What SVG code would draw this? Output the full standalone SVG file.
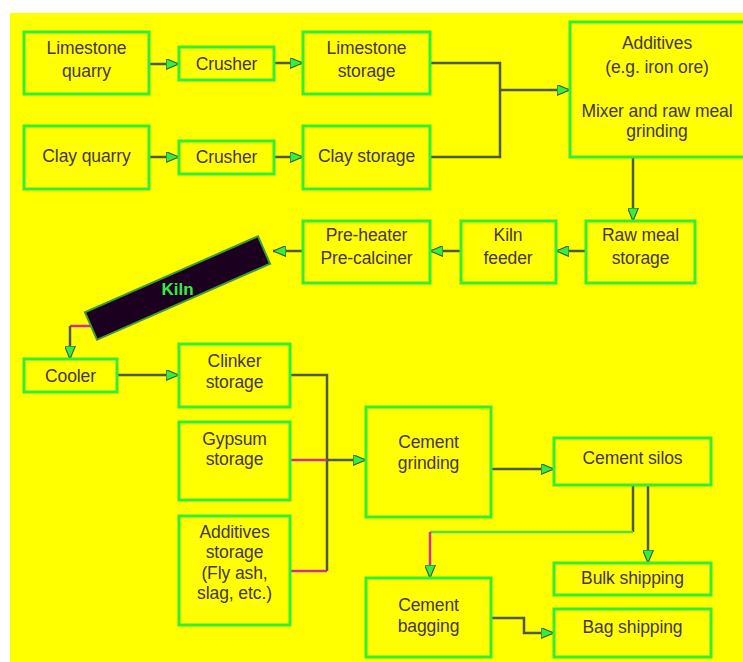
<svg xmlns="http://www.w3.org/2000/svg" width="743" height="662" viewBox="0 0 743 662">
<style>
.box{fill:#ffff00;stroke:#33ee33;stroke-width:3}
.t{font-family:"Liberation Sans",Arial,sans-serif;font-size:17.5px;fill:#46364a;text-anchor:middle;letter-spacing:-0.1px}
.c{fill:none;stroke:#4d5a33;stroke-width:2.5}
.m{stroke:#d0309a}
.g{stroke:#55dd44}
</style>
<defs>
<marker id="arr" viewBox="0 0 12 10" refX="12" refY="5" markerWidth="13" markerHeight="11" orient="auto" markerUnits="userSpaceOnUse">
<path d="M0,0 L12,5 L0,10 Z" fill="#33ee44" stroke="#3d5a2a" stroke-width="1"/>
</marker>
</defs>
<rect x="0" y="0" width="743" height="662" fill="#ffffff"/>
<rect x="10" y="13" width="733" height="649" fill="#ffff00"/>

<g id="connectors">
<path class="c" d="M149,64 H179" marker-end="url(#arr)"/>
<path class="c" d="M274,63 H303" marker-end="url(#arr)"/>
<path class="c" d="M149,157 H179" marker-end="url(#arr)"/>
<path class="c" d="M274,157 H303" marker-end="url(#arr)"/>
<path class="c" d="M430,63 H500 V157 H430"/>
<path class="c" d="M500,90 H570" marker-end="url(#arr)"/>
<path class="c" d="M633,157 V221" marker-end="url(#arr)"/>
<path class="c" d="M586,251 H556" marker-end="url(#arr)"/>
<path class="c" d="M461,251 H430" marker-end="url(#arr)"/>
<path class="c" d="M303,251 H273" marker-end="url(#arr)"/>
<path class="c m" d="M92,326 H70"/>
<path class="c" d="M70,326 V359" marker-end="url(#arr)"/>
<path class="c" d="M117,375 H179" marker-end="url(#arr)"/>
<path class="c" d="M290,375 H327 V571"/>
<path class="c m" d="M290,571 H327"/>
<path class="c m" d="M290,460 H327"/>
<path class="c" d="M327,460 H366" marker-end="url(#arr)"/>
<path class="c" d="M491,469 H554" marker-end="url(#arr)"/>
<path class="c" d="M648,485 V563" marker-end="url(#arr)"/>
<path class="c" d="M633,485 V532"/>
<path class="c g" d="M633,532 H430"/>
<path class="c m" d="M430,532 V578" marker-end="url(#arr)"/>
<path class="c" d="M491,618 H524 V633 H554" marker-end="url(#arr)"/>
</g>

<g id="limestone-quarry"><rect class="box" x="24" y="32" width="125" height="62"/><text class="t" x="86.5" y="54">Limestone</text><text class="t" x="86.5" y="77">quarry</text></g>
<g id="crusher-1"><rect class="box" x="179" y="47" width="95" height="33"/><text class="t" x="226.5" y="70">Crusher</text></g>
<g id="limestone-storage"><rect class="box" x="303" y="32" width="127" height="62"/><text class="t" x="366.5" y="54">Limestone</text><text class="t" x="366.5" y="77">storage</text></g>
<g id="additives-mixer"><rect class="box" x="570" y="22" width="182" height="135"/><text class="t" x="657" y="49">Additives</text><text class="t" x="657" y="73">(e.g. iron ore)</text><text class="t" x="657" y="117">Mixer and raw meal</text><text class="t" x="657" y="137">grinding</text></g>
<g id="clay-quarry"><rect class="box" x="24" y="126" width="125" height="63"/><text class="t" x="86.5" y="162">Clay quarry</text></g>
<g id="crusher-2"><rect class="box" x="179" y="141" width="95" height="33"/><text class="t" x="226.5" y="163">Crusher</text></g>
<g id="clay-storage"><rect class="box" x="303" y="126" width="127" height="63"/><text class="t" x="366.5" y="162">Clay storage</text></g>
<g id="raw-meal-storage"><rect class="box" x="586" y="221" width="109" height="62"/><text class="t" x="640.5" y="241">Raw meal</text><text class="t" x="640.5" y="264">storage</text></g>
<g id="kiln-feeder"><rect class="box" x="461" y="221" width="95" height="62"/><text class="t" x="508" y="241">Kiln</text><text class="t" x="508" y="264">feeder</text></g>
<g id="pre-heater"><rect class="box" x="303" y="221" width="127" height="62"/><text class="t" x="366.5" y="241">Pre-heater</text><text class="t" x="366.5" y="264">Pre-calciner</text></g>
<g id="kiln"><rect x="83" y="273" width="189" height="30" fill="#1c0020" stroke="#3f9a3f" stroke-width="2" transform="rotate(-23.7 177.5 288)"/><text x="177.5" y="295" font-family="Liberation Sans,Arial,sans-serif" font-size="17" font-weight="bold" fill="#33ee44" text-anchor="middle">Kiln</text></g>
<g id="cooler"><rect class="box" x="24" y="359" width="93" height="33"/><text class="t" x="70.5" y="382">Cooler</text></g>
<g id="clinker-storage"><rect class="box" x="179" y="344" width="111" height="63"/><text class="t" x="234.5" y="367">Clinker</text><text class="t" x="234.5" y="388">storage</text></g>
<g id="gypsum-storage"><rect class="box" x="179" y="422" width="111" height="78"/><text class="t" x="234.5" y="445">Gypsum</text><text class="t" x="234.5" y="465">storage</text></g>
<g id="additives-storage"><rect class="box" x="179" y="516" width="111" height="109"/><text class="t" x="234.5" y="538">Additives</text><text class="t" x="234.5" y="558">storage</text><text class="t" x="234.5" y="579">(Fly ash,</text><text class="t" x="234.5" y="599">slag, etc.)</text></g>
<g id="cement-grinding"><rect class="box" x="366" y="407" width="125" height="110"/><text class="t" x="428.5" y="448">Cement</text><text class="t" x="428.5" y="469">grinding</text></g>
<g id="cement-silos"><rect class="box" x="554" y="438" width="157" height="47"/><text class="t" x="632.5" y="464">Cement silos</text></g>
<g id="bulk-shipping"><rect class="box" x="554" y="563" width="157" height="32"/><text class="t" x="632.5" y="584">Bulk shipping</text></g>
<g id="cement-bagging"><rect class="box" x="366" y="578" width="125" height="79"/><text class="t" x="428.5" y="611">Cement</text><text class="t" x="428.5" y="632">bagging</text></g>
<g id="bag-shipping"><rect class="box" x="554" y="609" width="157" height="48"/><text class="t" x="632.5" y="633">Bag shipping</text></g>
</svg>
